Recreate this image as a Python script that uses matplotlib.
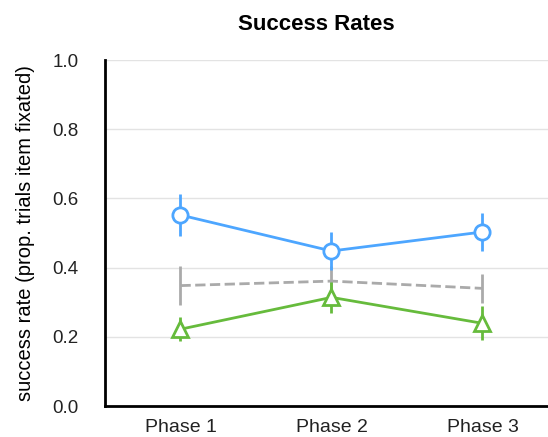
import numpy as np
import matplotlib.pyplot as plt

# ==== Données ====
phases = ["Phase 1", "Phase 2", "Phase 3"]

succes_haut = [0.552, 0.448, 0.503]
err_haut = [0.061, 0.056, 0.054]

succes_hasard = [0.348, 0.361, 0.340]
err_hasard = [0.057, 0.045, 0.041]

succes_bas = [0.222, 0.314, 0.239]
err_bas = [0.034, 0.045, 0.049]

bleu = "#4da6ff"
vert = "#66bb3c"
gris = "#aaaaaa"

plt.rcParams['font.family'] = ['Liberation Sans', 'DejaVu Sans']

fig = plt.figure(figsize=(5.48, 4.37), dpi=100)
ax = fig.add_axes([0.1916, 0.0709, 0.8266, 0.7918])

x = np.arange(len(phases))

# Ligne de référence (hasard)
ax.errorbar(x, succes_hasard, yerr=err_hasard, color=gris, ls="--", lw=2,
            elinewidth=2, capsize=0, zorder=2)
ax.errorbar(x, succes_bas, yerr=err_bas, color=vert, marker="^", ms=11,
            mfc="white", mew=2, lw=2, elinewidth=2, capsize=0, zorder=3)
ax.errorbar(x, succes_haut, yerr=err_haut, color=bleu, marker="o", ms=11,
            mfc="white", mew=2, lw=2, elinewidth=2, capsize=0, zorder=4)

ax.set_xlim(-0.5, 2.5)
ax.set_ylim(0, 1.0)
ax.set_xticks(x)
ax.set_xticklabels(phases, fontsize=14, color="#222222")
ax.set_yticks(np.arange(0, 1.01, 0.2))
ax.set_yticklabels([f"{v:.1f}" for v in np.arange(0, 1.01, 0.2)],
                   fontsize=13.5, color="#222222")
ax.tick_params(axis="x", length=0, pad=9)
ax.tick_params(axis="y", length=0, pad=19)
ax.grid(axis="y", color="#e3e3e3", lw=1)
ax.set_axisbelow(True)

for s in ["top", "right"]:
    ax.spines[s].set_visible(False)
ax.spines["left"].set_linewidth(2)
ax.spines["bottom"].set_linewidth(2)

ax.set_ylabel("success rate (prop. trials item fixated)", fontsize=14.5)
ax.yaxis.set_label_coords(-0.1545, 0.5)
fig.text(0.5766, 0.945, "Success Rates", fontsize=16, fontweight="bold",
         ha="center", va="center")

fig.savefig("out.png", dpi=100)
